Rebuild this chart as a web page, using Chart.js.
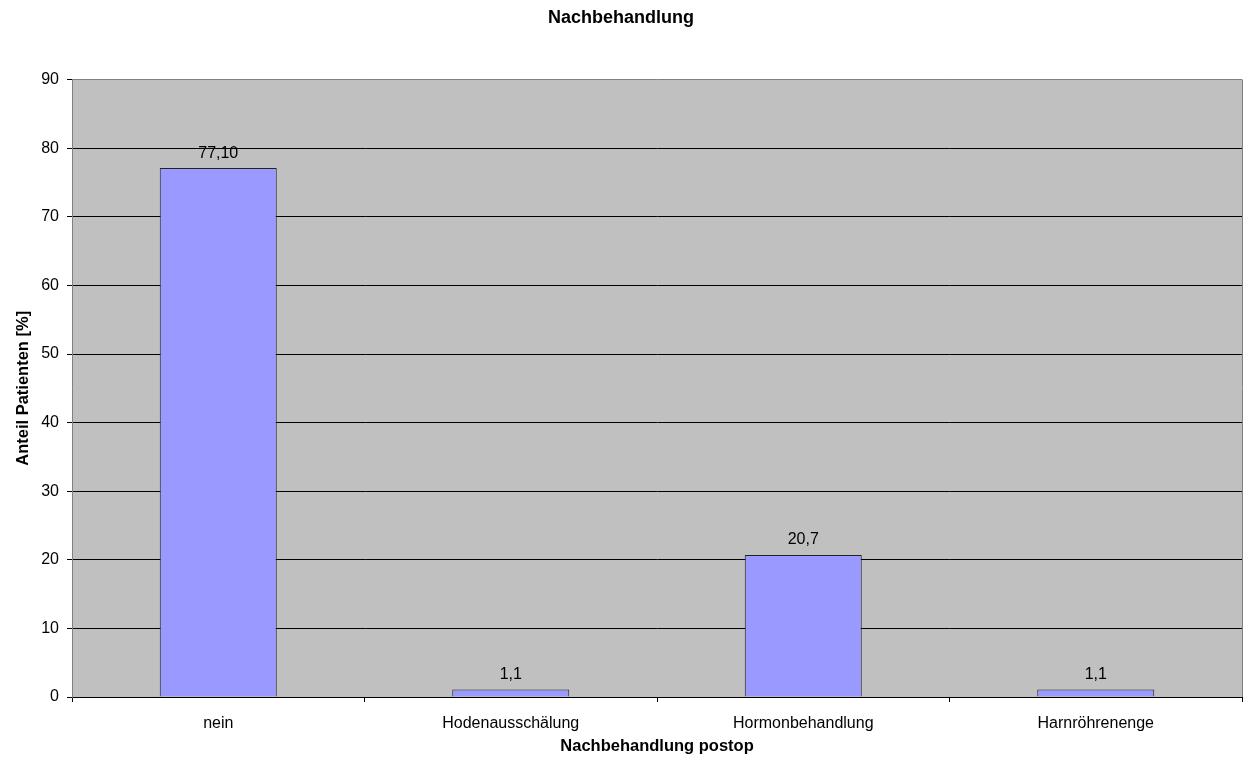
<!DOCTYPE html>
<html>
<head>
<meta charset="utf-8">
<script src="https://cdn.jsdelivr.net/npm/chart.js@4/dist/chart.umd.min.js"></script>
<style>
  body { margin: 0; background: #fff; }
  canvas { display: block; }
</style>
</head>
<body>
<canvas id="chart" width="1246" height="763"></canvas>
<script>
const categories = ["nein", "Hodenausschälung", "Hormonbehandlung", "Harnröhrenenge"];
const values = [77.1, 1.1, 20.7, 1.1];
const valueLabels = ["77,10", "1,1", "20,7", "1,1"];

const fontFamily = "'Liberation Sans', Arial, sans-serif";
Chart.defaults.color = "#000";
Chart.defaults.font.family = fontFamily;

// grey plot background + grey right border like the original
const plotBackground = {
    id: "plotBackground",
    beforeDraw(chart) {
        const { ctx, chartArea: a } = chart;
        ctx.save();
        ctx.fillStyle = "#c0c0c0";
        ctx.fillRect(a.left, a.top, a.right - a.left, a.bottom - a.top);
        ctx.restore();
    },
    beforeDatasetsDraw(chart) {
        const { ctx, chartArea: a } = chart;
        ctx.save();
        ctx.strokeStyle = "#808080";
        ctx.lineWidth = 1;
        ctx.beginPath();
        ctx.moveTo(a.right + 0.5, a.top);
        ctx.lineTo(a.right + 0.5, a.bottom);
        ctx.stroke();
        ctx.restore();
    }
};

// value labels above the bars
const valueLabelPlugin = {
    id: "valueLabels",
    afterDatasetsDraw(chart) {
        const { ctx } = chart;
        const meta = chart.getDatasetMeta(0);
        ctx.save();
        ctx.font = "16px " + fontFamily;
        ctx.fillStyle = "#000";
        ctx.textAlign = "center";
        ctx.textBaseline = "middle";
        meta.data.forEach((bar, i) => {
            ctx.fillText(valueLabels[i], bar.x, bar.y - 15);
        });
        ctx.restore();
    }
};

new Chart(document.getElementById("chart"), {
    type: "bar",
    data: {
        labels: categories,
        datasets: [{
            data: values,
            backgroundColor: "#9999ff",
            borderColor: "#222",
            borderWidth: 1,
            barPercentage: 0.4,
            categoryPercentage: 1
        }]
    },
    plugins: [plotBackground, valueLabelPlugin],
    options: {
        responsive: false,
        animation: false,
        layout: { padding: { right: 4 } },
        plugins: {
            legend: { display: false },
            tooltip: { enabled: false },
            title: {
                display: true,
                text: "Nachbehandlung",
                font: { size: 18, weight: "bold" },
                padding: { top: 7, bottom: 51 }
            }
        },
        scales: {
            x: {
                grid: {
                    display: true,
                    drawOnChartArea: false,
                    drawTicks: true,
                    tickLength: 5,
                    color: "#000"
                },
                border: { color: "#000" },
                ticks: { font: { size: 16 }, padding: 12, maxRotation: 0 },
                title: {
                    display: true,
                    text: "Nachbehandlung postop",
                    font: { size: 16.5, weight: "bold" },
                    padding: { bottom: 7 }
                },
                afterFit(scale) { scale.height = 66; }
            },
            y: {
                min: 0,
                max: 90,
                ticks: { stepSize: 10, font: { size: 16 }, padding: 8 },
                grid: {
                    color: c => (c.tick && c.tick.value === 90 ? "#808080" : "#000"),
                    tickColor: "#000",
                    tickLength: 5
                },
                border: { color: "#808080" },
                title: {
                    display: true,
                    text: "Anteil Patienten [%]",
                    font: { size: 16.5, weight: "bold" },
                    padding: { top: 14 }
                },
                afterFit(scale) { scale.width = 72; }
            }
        }
    }
});
</script>
</body>
</html>
